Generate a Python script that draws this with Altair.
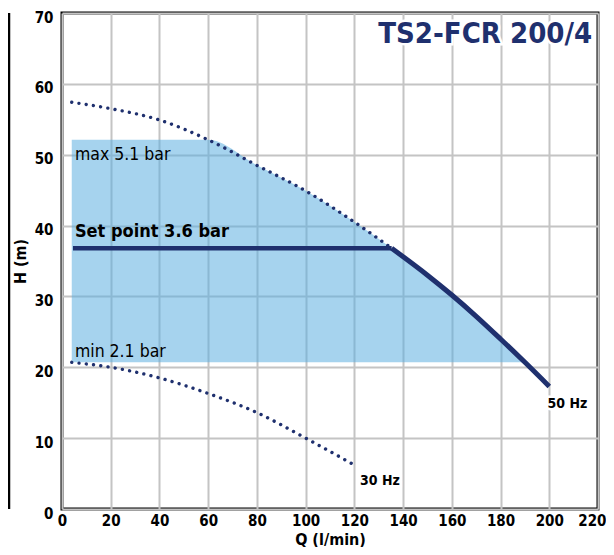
import altair as alt
import pandas as pd

# 50 Hz curve, dotted part (above set point)
q50_dot = [4, 20, 40, 60, 80, 100, 120, 135.3]
h50_dot = [57.4, 56.5, 54.9, 52.1, 48.5, 44.9, 40.5, 36.8]
# 50 Hz curve, solid part
q50_sol = [135.3, 150, 160, 170, 180, 190, 200]
h50_sol = [36.8, 33.0, 30.2, 27.2, 24.0, 20.7, 17.3]
# 30 Hz curve
q30 = [4, 20, 40, 60, 80, 100, 119]
h30 = [20.7, 20.0, 18.5, 16.3, 13.6, 10.0, 6.4]
# set point line
q_set = [4.5, 135.3]
h_set = [36.8, 36.8]
# working band (between min and max pressure, bounded by 50 Hz curve)
band_q = [4, 60, 80, 100, 120, 135.3, 150, 160, 170, 180, 190]
band_top = [52.1, 52.1, 48.5, 44.9, 40.5, 36.8, 33.0, 30.2, 27.2, 24.0, 20.7]
band_bottom = [20.7] * len(band_q)

# annotations (data coordinates)
note_text = ["max 5.1 bar", "min 2.1 bar"]
note_q = [5.3, 5.3]
note_h = [49.3, 21.5]
set_text = ["Set point 3.6 bar"]
set_q = [5.3]
set_h = [38.4]
hz_text = ["50 Hz", "30 Hz"]
hz_q = [199.3, 122.3]
hz_h = [14.3, 3.4]
title_text = ["TS2-FCR 200/4"]
title_q = [217.6]
title_h = [65.8]

NAVY = "#1f306e"
FONT = "'DejaVu Sans Condensed', 'Liberation Sans', sans-serif"

x_scale = alt.Scale(domain=[0, 220], nice=False, zero=False)
y_scale = alt.Scale(domain=[0, 70], nice=False, zero=False)

x_axis = alt.Axis(
    values=list(range(0, 221, 10)),
    labelExpr="datum.value % 20 === 0 ? datum.label : ''",
    labelAlign={"condition": {"test": "datum.value === 220", "value": "right"}, "value": "center"},
    labelOffset={"condition": {"test": "datum.value === 220", "value": 8}, "value": 0},
    title="Q (l/min)",
    grid=True,
    gridColor="#c4c4c4",
    gridWidth={"condition": {"test": "datum.value % 20 === 0", "value": 2}, "value": 1.3},
    ticks=False,
    domain=False,
    labelFont=FONT,
    labelFontSize=15,
    labelFontWeight="bold",
    labelColor="black",
    labelPadding=4,
    labelFlush=False,
    titleFont=FONT,
    titleFontSize=16,
    titleFontWeight="bold",
    titleColor="black",
    titlePadding=3,
)
y_axis = alt.Axis(
    values=list(range(0, 71, 5)),
    labelExpr="datum.value % 10 === 0 ? datum.label : ''",
    title="H (m)",
    grid=True,
    gridColor="#c4c4c4",
    gridWidth={"condition": {"test": "datum.value % 10 === 0", "value": 2}, "value": 1.3},
    ticks=False,
    domain=False,
    labelFont=FONT,
    labelFontSize=15,
    labelFontWeight="bold",
    labelColor="black",
    labelPadding=9,
    labelOffset=4,
    labelFlush=False,
    titleFont=FONT,
    titleFontSize=16,
    titleFontWeight="bold",
    titleColor="black",
    titlePadding=6,
)

band_df = pd.DataFrame({"Q": band_q, "top": band_top, "bottom": band_bottom})
dot_df = pd.DataFrame({"Q": q50_dot + q30, "H": h50_dot + h30,
                       "s": ["50"] * len(q50_dot) + ["30"] * len(q30)})
sol_df = pd.DataFrame({"Q": q50_sol, "H": h50_sol})
set_df = pd.DataFrame({"Q": q_set, "H": h_set})

band = alt.Chart(band_df).mark_area(color="#5daee0", opacity=0.55, interpolate="monotone").encode(
    x=alt.X("Q:Q", scale=x_scale, axis=x_axis),
    y=alt.Y("top:Q", scale=y_scale, axis=y_axis),
    y2="bottom:Q",
)

dotted = alt.Chart(dot_df).mark_line(
    color=NAVY, strokeWidth=3.4, strokeDash=[0.01, 7.3], strokeCap="round", interpolate="monotone"
).encode(x=alt.X("Q:Q", scale=x_scale), y=alt.Y("H:Q", scale=y_scale), detail="s:N")

solid = alt.Chart(sol_df).mark_line(color=NAVY, strokeWidth=5, interpolate="monotone").encode(
    x=alt.X("Q:Q", scale=x_scale), y=alt.Y("H:Q", scale=y_scale))

setline = alt.Chart(set_df).mark_line(color=NAVY, strokeWidth=4.7).encode(
    x=alt.X("Q:Q", scale=x_scale), y=alt.Y("H:Q", scale=y_scale))


def text_layer(texts, qs, hs, **kw):
    df = pd.DataFrame({"t": texts, "Q": qs, "H": hs})
    return alt.Chart(df).mark_text(font=FONT, baseline="alphabetic", **kw).encode(
        x=alt.X("Q:Q", scale=x_scale), y=alt.Y("H:Q", scale=y_scale), text="t:N")


notes = text_layer(note_text, note_q, note_h, align="left", fontSize=17.5, color="black")
setlbl = text_layer(set_text, set_q, set_h, align="left", fontSize=18, fontWeight="bold", color="black")
hz_halo = text_layer(hz_text, hz_q, hz_h, align="left", fontSize=14, fontWeight="bold",
                     color="white", stroke="white", strokeWidth=5)
hz = text_layer(hz_text, hz_q, hz_h, align="left", fontSize=14, fontWeight="bold", color="black")
title_halo = text_layer(title_text, title_q, title_h, align="right", fontSize=29, fontWeight="bold",
                        color="white", stroke="white", strokeWidth=5)
title = text_layer(title_text, title_q, title_h, align="right", fontSize=29, fontWeight="bold", color=NAVY)

side_rule = alt.Chart(pd.DataFrame({"a": [0]})).mark_rule(color="black", strokeWidth=2.5).encode(
    x=alt.value(-53), y=alt.value(0), y2=alt.value(496))

chart = alt.layer(
    band, dotted, solid, setline, notes, setlbl, hz_halo, hz, title_halo, title, side_rule
).properties(
    width=536, height=496,
    autosize=alt.AutoSizeParams(type="none"),
    padding={"left": 54, "top": 5, "right": 8, "bottom": 38},
).configure_view(stroke="black", strokeWidth=3)

chart.save("out.html", embed_options={"renderer": "svg", "actions": False})
